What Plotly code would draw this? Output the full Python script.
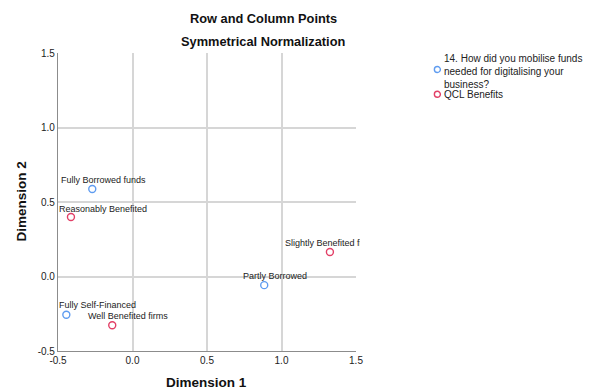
import plotly.graph_objects as go

# Data
fund_labels = ["Fully Borrowed funds", "Partly Borrowed", "Fully Self-Financed"]
fund_dim1 = [-0.27, 0.884, -0.444]
fund_dim2 = [0.587, -0.058, -0.257]

qcl_labels = ["Reasonably Benefited", "Slightly Benefited firms", "Well Benefited firms"]
qcl_dim1 = [-0.413, 1.325, -0.136]
qcl_dim2 = [0.399, 0.164, -0.327]

x_ticks = [-0.5, 0.0, 0.5, 1.0, 1.5]
y_ticks = [-0.5, 0.0, 0.5, 1.0, 1.5]

series_names = ["14. How did you mobilise funds<br>needed for digitalising your<br>business?",
                "QCL Benefits"]

# Label placement (pixel offsets of each label's left edge / vertical centre from its point)
fund_label_shift = [(-32.7, 8.6), (-22.3, 9.6), (-8.4, 10)]
qcl_label_shift = [(-13, 8), (-46, 9), (-25, 9)]
qcl_label_width = [None, 75, None]  # the second label is cut at the plot edge, as in the reference
fund_label_width = [None, None, None]

FONT = "Liberation Sans, Arial, sans-serif"
BLUE = "#5f9cf0"
RED = "#e23f66"

W, H = 602, 389
L, R, T, B = 57.5, 246, 53, 38
PW, PH = W - L - R, H - T - B


def px_x(p):
    return (p - L) / PW


def px_y(p):
    return 1 - (p - T) / PH


fig = go.Figure()
for xs, ys, labels, color, name, shifts, widths in [
    (fund_dim1, fund_dim2, fund_labels, BLUE, series_names[0], fund_label_shift, fund_label_width),
    (qcl_dim1, qcl_dim2, qcl_labels, RED, series_names[1], qcl_label_shift, qcl_label_width),
]:
    fig.add_trace(go.Scatter(
        x=xs, y=ys, mode="markers",
        marker=dict(symbol="circle-open", size=7, color=color, line=dict(width=1.4)),
        name=name, showlegend=False, cliponaxis=True,
    ))
    for xv, yv, lab, (dx, dy), wd in zip(xs, ys, labels, shifts, widths):
        kw = dict(width=wd) if wd else {}
        fig.add_annotation(x=xv, y=yv, xref="x", yref="y", text=lab, showarrow=False,
                           xanchor="left", yanchor="middle", align="left",
                           xshift=dx, yshift=dy, borderpad=0,
                           font=dict(family=FONT, size=9, color="#222"), **kw)

axis_common = dict(
    showgrid=True, gridcolor="#d6d6d6", gridwidth=1.5,
    zeroline=False, showline=True, linecolor="#8c8c8c", linewidth=1.2,
    tickfont=dict(family=FONT, size=10, color="#222"),
    ticks="", mirror=False,
)
fig.update_xaxes(range=[-0.5, 1.5], tickvals=x_ticks, ticktext=[f"{v:.1f}" for v in x_ticks], **axis_common)
fig.update_yaxes(range=[-0.5, 1.5], tickvals=y_ticks, ticktext=[f"{v:.1f}" for v in y_ticks], **axis_common)

# Titles
for txt, ypix in [("<b>Row and Column Points</b>", 18), ("<b>Symmetrical Normalization</b>", 42)]:
    fig.add_annotation(text=txt, x=px_x(263), y=px_y(ypix), xref="paper", yref="paper",
                       xanchor="center", yanchor="middle", showarrow=False,
                       font=dict(family=FONT, size=12.8, color="#111"))
# Axis titles
fig.add_annotation(text="<b>Dimension 1</b>", x=px_x(206.7), y=px_y(382), xref="paper", yref="paper",
                   xanchor="center", yanchor="middle", showarrow=False,
                   font=dict(family=FONT, size=13.5, color="#111"))
fig.add_annotation(text="<b>Dimension 2</b>", x=px_x(20), y=px_y(202), xref="paper", yref="paper",
                   xanchor="center", yanchor="middle", showarrow=False, textangle=-90,
                   font=dict(family=FONT, size=13.5, color="#111"))

# Legend (manual)
legend_items = [(series_names[0], BLUE, 71.5, 69.5), (series_names[1], RED, 94.3, 94.3)]
for name, color, text_y, mark_y in legend_items:
    fig.add_annotation(text=name, x=px_x(442), y=px_y(text_y), xref="paper", yref="paper",
                       xanchor="left", yanchor="middle", align="left", showarrow=False,
                       font=dict(family=FONT, size=10, color="#222"))
    fig.add_shape(type="circle", xref="paper", yref="paper", xsizemode="pixel", ysizemode="pixel",
                  xanchor=px_x(437.5), yanchor=px_y(mark_y), x0=-3, x1=3, y0=-3, y1=3,
                  line=dict(color=color, width=1.4), fillcolor="rgba(0,0,0,0)")

fig.update_layout(
    width=W, height=H,
    margin=dict(l=L, r=R, t=T, b=B, autoexpand=False),
    paper_bgcolor="white", plot_bgcolor="white",
    showlegend=False,
)

fig.write_html("out.html", config={"displayModeBar": False},
               post_script="document.body.style.margin='0';")
